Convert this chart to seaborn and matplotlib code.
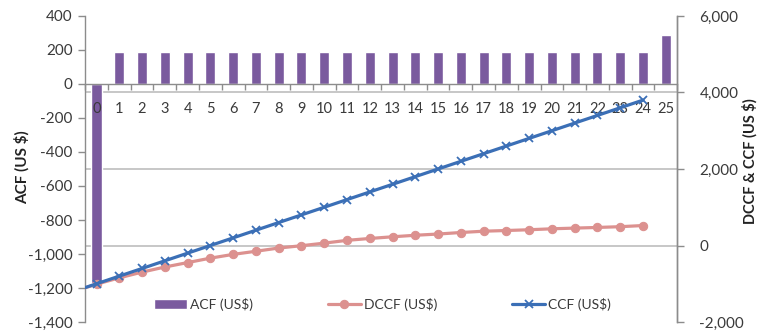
import matplotlib
matplotlib.use("Agg")
import matplotlib.pyplot as plt
import seaborn as sns
import numpy as np
import pandas as pd

# Annual cash flow per project year (bars, left axis)
years = list(range(0, 26))
acf = [-1170] + [190] * 24 + [290]

# Cumulative series (lines, right axis); the first point is the initial outlay
line_years = [-1, 0, 1, 2, 3, 4, 5, 6, 7, 8, 9, 10, 11, 12, 13, 14, 15, 16, 17,
              18, 19, 20, 21, 22, 23, 24]
ccf = [-1200, -1000, -800, -600, -400, -200, 0, 200, 400, 600, 800, 1000, 1200,
       1400, 1600, 1800, 2000, 2200, 2400, 2600, 2800, 3000, 3200, 3400, 3600,
       3800]
dccf = [-1200, -1010, -845, -695, -562, -446, -330, -232, -150, -66, -5, 62,
        135, 184, 228, 268, 300, 340, 374, 392, 412, 437, 455, 472, 492, 522]

left_ticks = list(range(-1400, 401, 200))
right_ticks = [-2000, 0, 2000, 4000, 6000]

BAR = "#7A5A9E"
PINK = "#DC918F"
BLUE = "#3B6FB6"
GRID = "#BEBEBE"
AXC = "#8C8C8C"
TXT = "#3A3A3A"

sns.set_theme(style="white")
plt.rcParams["font.family"] = ["Lato", "DejaVu Sans"]

fig = plt.figure(figsize=(7.6, 3.32), dpi=100)
ax = fig.add_axes([0.112, 0.030, 0.779, 0.922])
ax2 = ax.twinx()

bars = pd.DataFrame({"year": years, "acf": acf})
sns.barplot(data=bars, x="year", y="acf", ax=ax, color=BAR, width=0.44,
            saturation=1, label="ACF (US$)")

ax.set_xlim(-0.5, 25.5)
ax.set_ylim(-1400, 400)
ax2.set_ylim(-2000, 6000)

lines = pd.DataFrame({"year": line_years, "DCCF": dccf, "CCF": ccf})
sns.lineplot(data=lines, x="year", y="DCCF", ax=ax2, color=PINK, lw=2.3,
             marker="o", markersize=6, markeredgecolor=PINK,
             label="DCCF (US$)")
sns.lineplot(data=lines, x="year", y="CCF", ax=ax2, color=BLUE, lw=2.3,
             marker="x", markersize=6, markeredgewidth=1.3,
             markeredgecolor=BLUE, label="CCF (US$)")
ax2.set_xlim(-0.5, 25.5)

# horizontal gridlines follow the right-axis ticks, drawn behind the bars
lo, hi = ax.get_ylim()
rlo, rhi = ax2.get_ylim()
grid_left = [lo + (t - rlo) / (rhi - rlo) * (hi - lo) for t in right_ticks]
ax.set_yticks(grid_left, minor=True)
ax.grid(which="minor", axis="y", color=GRID, lw=1.2)
ax.grid(which="major", visible=False)
ax.set_axisbelow(True)
ax.xaxis.set_zorder(5)  # category labels stay on top of the bars
ax.tick_params(axis="y", which="minor", length=0)

# left axis
ax.set_yticks(left_ticks)
ax.set_yticklabels([f"{v:,}" for v in left_ticks])
ax.tick_params(axis="y", which="major", length=5, width=1, color=AXC,
               labelsize=11, labelcolor=TXT, pad=4, left=True)
ax.set_ylabel("ACF (US $)", fontsize=11, fontweight="bold", color="#222222")
ax.yaxis.set_label_coords(-0.093, 0.507)

# category axis crossing at zero with tick marks between categories
ax.spines["bottom"].set_position(("data", 0))
ax.set_xticks(range(len(years)))
ax.set_xticklabels([str(y) for y in years])
ax.set_xticks(np.arange(-0.5, 25.6, 1.0), minor=True)
ax.tick_params(axis="x", which="major", length=0, labelsize=10.5,
               labelcolor=TXT, pad=13)
ax.tick_params(axis="x", which="minor", length=4, width=1, color=AXC,
               direction="out", bottom=True)
ax.set_xlabel("")

# right axis
ax2.set_yticks(right_ticks)
ax2.set_yticklabels([f"{v:,}" for v in right_ticks])
ax2.tick_params(axis="y", length=5, width=1, color=AXC, labelsize=11,
                labelcolor=TXT, pad=11, right=True)
ax2.set_ylabel("DCCF & CCF (US $)", fontsize=10.5, fontweight="bold",
               color="#222222")
ax2.yaxis.set_label_coords(1.110, 0.526)
ax2.set_xlabel("")
ax2.grid(False)

for a in (ax, ax2):
    for s in a.spines.values():
        s.set_color(AXC)
        s.set_linewidth(1)
    a.spines["top"].set_visible(False)
ax2.spines["bottom"].set_visible(False)
ax2.spines["left"].set_visible(False)

# one legend for both axes
if ax.get_legend():
    ax.get_legend().remove()
h1, l1 = ax.get_legend_handles_labels()
h2, l2 = ax2.get_legend_handles_labels()
ax2.legend(h1 + h2, l1 + l2, loc="lower center", bbox_to_anchor=(0.502, -0.005),
           ncol=3, frameon=False, fontsize=10, columnspacing=5.4,
           handlelength=2.4, handletextpad=0.2, labelcolor=TXT)

fig.savefig("out.png", dpi=100)
